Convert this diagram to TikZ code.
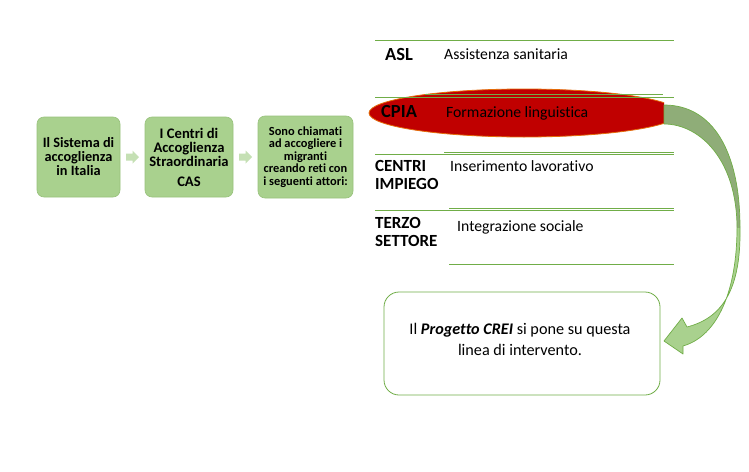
\documentclass[tikz,border=0pt]{standalone}
\usepackage{fontspec}
\setmainfont{Carlito}[Ligatures={NoCommon}]
\usetikzlibrary{shapes.geometric,calc}
\definecolor{boxfill}{HTML}{A9D18E}
\definecolor{boxline}{HTML}{98C27C}
\definecolor{gline}{HTML}{70AD47}
\definecolor{sarrow}{HTML}{C5E0B4}
\definecolor{cpiared}{HTML}{C00000}
\definecolor{cpiaedge}{HTML}{E46C0A}
\definecolor{darkarrow}{HTML}{8FAD78}
\tikzset{
  procbox/.style={draw=boxline, line width=0.6pt, fill=boxfill, rounded corners=7pt,
    align=center, inner sep=0pt, text=black},
  smallarrow/.style={fill=sarrow},
  lab/.style={anchor=base west, inner sep=0pt, font=\bfseries\fontsize{17}{17.6}\selectfont},
  biglab/.style={anchor=base west, inner sep=0pt, font=\bfseries\fontsize{18.5}{19}\selectfont},
  desc/.style={anchor=base west, inner sep=0pt, font=\fontsize{15.7}{19}\selectfont},
  tabline/.style={draw=gline, line width=0.9pt},
}
\begin{document}
\begin{tikzpicture}[x=1pt,y=-1pt]
\useasboundingbox (0,0) rectangle (749,471);
\fill[white] (0,0) rectangle (749,471);

% process boxes
\node[procbox, minimum width=83pt, minimum height=80pt,
  font=\bfseries\fontsize{14.3}{14}\selectfont] (b1) at (78.5,157)
  {Il Sistema di\\accoglienza\\in Italia};
\node[procbox, minimum width=88pt, minimum height=80pt,
  font=\bfseries\fontsize{14.6}{14}\selectfont] (b2) at (189,157)
  {I Centri di\\Accoglienza\\Straordinaria\\[6pt]CAS};
\node[procbox, minimum width=95pt, minimum height=82pt,
  font=\bfseries\fontsize{12.4}{12.6}\selectfont] (b3) at (305.5,157)
  {Sono chiamati\\ad accogliere i\\migranti\\creando reti con\\i seguenti attori:};

% small arrows between boxes
\coordinate (m1) at ($(b1.east)!0.5!(b2.west)$);
\coordinate (m2) at ($(b2.east)!0.5!(b3.west)$);
\foreach \m in {m1,m2}{
  \fill[smallarrow] (\m) ++(-6.5,-3.5) -- ++(6.5,0) -- ++(0,-3) -- ++(6.5,6.5)
     -- ++(-6.5,6.5) -- ++(0,-3) -- ++(-6.5,0) -- cycle;
}

% CPIA ellipse
\begin{scope}
\clip (300,60) rectangle (664,160);
\node[ellipse, fill=cpiared, draw=cpiaedge, line width=0.8pt, minimum width=310pt,
  minimum height=48pt, inner sep=0pt] (cpia) at (524,113) {};
\end{scope}

% table lines
\draw[tabline] (375,40) -- (674,40);
\draw[tabline] (425,94) -- (663,94);
\draw[tabline] (375,97.3) -- (674,97.3);
\draw[tabline] (444,152) -- (674,152);
\draw[tabline] (375,154) -- (674,154);
\draw[tabline] (449,208) -- (674,208);
\draw[tabline] (375,210.5) -- (674,210.5);
\draw[tabline] (449,264) -- (674,264);

% labels
\node[biglab] (asl) at (385,60.5) {ASL};
\node[desc] (asld) at (444,59) {Assistenza sanitaria};
\node[biglab] (cpial) at (381,117.3) {CPIA};
\node[desc] (cpiad) at (446,117) {Formazione linguistica};
\node[lab] (cen1) at (375,171.7) {CENTRI};
\node[lab] (cen2) at (375,189.3) {IMPIEGO};
\node[desc] (cend) at (450,171) {Inserimento lavorativo};
\node[lab] (ter1) at (375,228.3) {TERZO};
\node[lab] (ter2) at (375,246) {SETTORE};
\node[desc] (terd) at (457,231.7) {Integrazione sociale};

% bottom box
\node[draw=gline, line width=0.8pt, rounded corners=15pt, fill=white,
  minimum width=276pt, minimum height=103pt] (crei) at (522,343.5) {};
\node[font=\fontsize{16.2}{21}\selectfont, align=center, inner sep=0pt] (creitxt) at (520,339)
  {Il \textbf{\textit{Progetto CREI}} si pone su questa\\linea di intervento.};

% big curved arrow
\fill[darkarrow] (664,105) .. controls (712,105) and (740,150) .. (740,228)
  -- (737,228) .. controls (737,160) and (700,124) .. (664,124) -- cycle;
\fill[boxfill] (740,228) .. controls (741,290) and (722,318) .. (687,327)
  -- (682,318) -- (664,341) -- (683,354) -- (683,346)
  .. controls (718,336) and (737,290) .. (737,228) -- cycle;
\draw[gline, line width=0.7pt, line join=round]
  (664,105) .. controls (712,105) and (740,150) .. (740,228)
  .. controls (741,290) and (722,318) .. (687,327)
  -- (682,318) -- (664,341) -- (683,354) -- (683,346)
  .. controls (718,336) and (737,290) .. (737,228)
  .. controls (737,160) and (700,124) .. (664,124) -- cycle;
\end{tikzpicture}
\end{document}
